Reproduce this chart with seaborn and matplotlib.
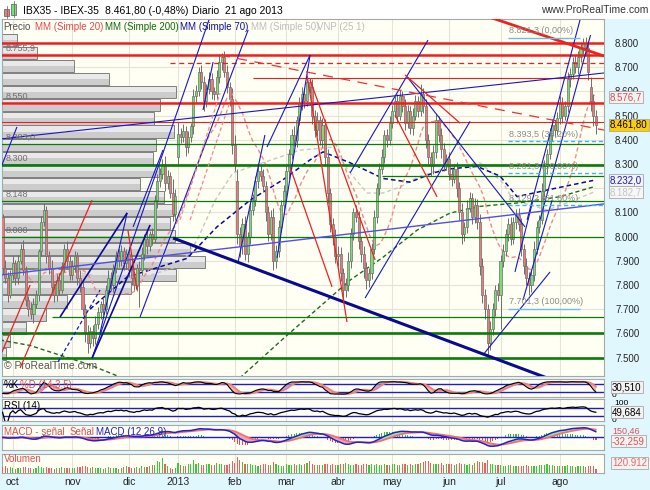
import numpy as np
import pandas as pd
import matplotlib
matplotlib.use("Agg")
import matplotlib.pyplot as plt
import matplotlib.transforms as mtransforms
from matplotlib.patches import Rectangle
import seaborn as sns

# ---------------- data ----------------
close_sep = [7870, 7830, 7760, 7840]
close_oct = [7890, 7830, 7900, 7950, 7860, 7740, 7700, 7680, 7720, 7760, 7940, 8060,
             8110, 7920, 7870, 7790, 7760, 7820, 7780, 7880, 7950, 7900, 7840]
close_nov = [7880, 7920, 7830, 7790, 7700, 7600, 7560, 7610, 7580, 7640, 7690, 7720,
             7700, 7780, 7830, 7800, 7870, 7920, 7900, 7940, 7890, 7930]
close_dic = [7860, 7830, 7800, 7870, 7860, 7930, 7990, 7960, 8010, 7990, 8150, 8230,
             8260, 8300, 8220, 8250, 8180, 8095, 8168]
close_ene = [8425, 8410, 8435, 8370, 8410, 8455, 8580, 8600, 8680, 8640, 8560, 8610,
             8650, 8600, 8590, 8660, 8720, 8740, 8680, 8620, 8570, 8380]
close_feb = [8300, 8010, 7960, 8050, 7930, 8000, 8110, 8150, 8230, 8270, 8250, 8210,
             8100, 8010, 8080, 7900, 7940, 8040, 8130, 8190]
close_mar = [8270, 8340, 8420, 8400, 8480, 8550, 8590, 8560, 8640, 8620, 8500, 8440,
             8480, 8400, 8460, 8330, 8180, 8050, 8000, 7920]
close_abr = [7930, 7850, 7780, 7800, 7900, 8010, 8100, 8080, 7980, 7930, 7870, 7820,
             7850, 7950, 8080, 8200, 8280, 8330, 8420, 8400, 8470]
close_may = [8520, 8560, 8500, 8580, 8540, 8470, 8520, 8450, 8500, 8560, 8520, 8590,
             8540, 8400, 8330, 8290, 8350, 8480, 8420, 8360, 8300, 8320]
close_jun = [8260, 8240, 8280, 8200, 8100, 8010, 8040, 8120, 8160, 8080, 8130, 8060,
             7880, 7760, 7700, 7560, 7620, 7700, 7780, 7760]
close_jul = [7900, 7940, 8010, 8050, 7990, 8060, 8090, 8050, 7950, 7880, 7830, 7800,
             7840, 7950, 8040, 8070, 8190, 8290, 8340, 8420, 8460, 8440, 8490]
close_ago = [8550, 8500, 8540, 8650, 8670, 8720, 8700, 8740, 8780, 8800, 8780, 8680,
             8560, 8500, 8461.8]

gap_opens = {0: 8080, 68: 8330, 91: 8230, 228: 8620}

wick_up = [15, 35, 25, 20,
           30, 15, 25, 20, 35, 20, 15, 30, 25, 20, 10, 25, 30, 15, 20, 35, 20, 25, 30, 15, 20, 30, 25,
           25, 20, 15, 30, 25, 20, 35, 15, 25, 30, 20, 15, 25, 20, 30, 25, 15, 20, 30, 25, 15, 20,
           30, 20, 25, 15, 30, 25, 20, 35, 15, 25, 20, 30, 25, 20, 35, 25, 15, 60, 30,
           50, 25, 30, 20, 25, 15, 30, 25, 20, 30, 25, 20, 30, 25, 20, 30, 35, 20, 25, 30, 20, 45,
           40, 50, 30, 25, 35, 20, 30, 25, 20, 35, 25, 30, 20, 25, 30, 40, 25, 30, 20, 25,
           30, 20, 25, 35, 20, 25, 30, 25, 20, 15, 30, 25, 35, 20, 30, 25, 30, 20, 25, 30,
           30, 25, 20, 30, 35, 25, 20, 30, 25, 20, 30, 25, 20, 25, 30, 20, 25, 30, 20, 25, 30,
           25, 20, 30, 25, 20, 30, 25, 20, 30, 25, 20, 40, 25, 30, 25, 20, 30, 25, 20, 30, 25, 20,
           30, 25, 20, 30, 25, 40, 20, 30, 25, 20, 30, 25, 35, 30, 25, 20, 30, 25, 20, 30,
           25, 30, 20, 25, 30, 20, 25, 30, 25, 20, 30, 25, 20, 30, 25, 20, 30, 25, 20, 30, 25, 20, 25,
           30, 25, 20, 30, 25, 20, 30, 25, 20, 21, 25, 30, 40, 30, 25]
wick_dn = [25, 20, 30, 15,
           20, 30, 25, 15, 20, 25, 30, 20, 35, 15, 25, 20, 15, 30, 25, 20, 30, 25, 20, 15, 25, 30, 20,
           20, 25, 30, 20, 25, 35, 40, 20, 30, 25, 20, 30, 25, 20, 15, 25, 30, 20, 25, 20, 30, 25,
           25, 30, 20, 25, 150, 20, 25, 30, 20, 25, 15, 30, 25, 20, 30, 25, 20, 30, 25,
           30, 25, 20, 35, 25, 20, 30, 25, 20, 30, 40, 25, 20, 30, 25, 20, 25, 30, 20, 25, 30, 40,
           30, 40, 45, 30, 25, 35, 30, 20, 25, 30, 20, 25, 35, 30, 25, 40, 30, 25, 20, 25,
           25, 30, 20, 25, 30, 20, 25, 30, 20, 25, 35, 30, 25, 20, 30, 35, 40, 30, 35, 30,
           40, 35, 45, 30, 25, 30, 25, 20, 30, 35, 40, 35, 30, 25, 20, 25, 30, 20, 25, 30, 20,
           20, 25, 30, 20, 25, 30, 20, 25, 30, 20, 25, 20, 30, 35, 30, 40, 30, 25, 30, 35, 30, 25,
           25, 30, 20, 35, 30, 40, 30, 25, 20, 30, 25, 30, 40, 35, 40, 50, 30, 25, 30, 25,
           140, 25, 20, 30, 25, 20, 30, 25, 30, 35, 30, 40, 30, 25, 20, 25, 20, 25, 30, 20, 25, 30, 20,
           25, 30, 20, 25, 30, 20, 25, 30, 20, 25, 30, 35, 40, 45, 40]
volume = [160, 190, 150, 170,
          140, 120, 150, 130, 160, 170, 140, 130, 120, 150, 180, 160, 140, 170, 150, 130, 120, 140, 130, 160, 150, 140, 130,
          150, 140, 160, 170, 180, 190, 170, 150, 160, 140, 130, 150, 120, 140, 160, 150, 130, 140, 120, 150, 160, 190,
          170, 150, 140, 160, 150, 180, 170, 160, 190, 210, 230, 330, 300, 420, 260, 200, 150, 120, 130,
          280, 230, 200, 180, 250, 260, 350, 250, 270, 230, 210, 240, 260, 220, 230, 280, 260, 250, 230, 220, 240, 330,
          280, 440, 350, 300, 260, 240, 250, 230, 220, 200, 210, 240, 250, 230, 210, 300, 260, 220, 200, 190,
          240, 220, 230, 250, 220, 240, 230, 260, 280, 330, 240, 220, 210, 230, 220, 260, 240, 230, 250, 220,
          230, 250, 260, 280, 240, 230, 220, 240, 220, 230, 250, 240, 220, 260, 230, 240, 220, 210, 250, 220, 230,
          240, 250, 230, 220, 240, 260, 230, 250, 220, 240, 260, 280, 300, 340, 320, 280, 250, 240, 260, 280, 230, 250,
          260, 240, 230, 250, 270, 260, 240, 230, 250, 220, 280, 330, 290, 300, 280, 350, 260, 240, 230, 220,
          210, 200, 190, 210, 230, 200, 190, 180, 200, 190, 210, 200, 190, 180, 200, 220, 210, 230, 240, 220, 210, 190, 200,
          190, 180, 200, 210, 190, 180, 170, 190, 180, 200, 170, 190, 200, 180, 121]

month_pos = [4, 27, 49, 68, 90, 110, 130, 151, 173, 193, 216]
month_labels = ["oct", "nov", "dic", "2013", "feb", "mar", "abr", "may", "jun", "jul", "ago"]
price_ticks = [7500, 7600, 7700, 7800, 7900, 8000, 8100, 8200, 8300, 8400, 8500, 8600, 8700, 8800]
hidden_ticks = [8200]   # fully covered by the value boxes in the reference

# volume-at-price profile (left)
profile_price = [8812, 8758, 8704, 8650, 8596, 8542, 8488, 8434, 8380, 8326, 8272, 8218, 8164,
                 8110, 8056, 8002, 7948, 7894, 7840, 7786, 7732, 7678, 7624, 7570, 7516]
profile_volume = [15, 35, 72, 107, 174, 158, 152, 172, 154, 151, 157, 138, 162,
                  172, 168, 173, 188, 203, 174, 129, 65, 44, 24, 8, 4]

# moving averages (index, value)
sma200_x = [-1, 10.7, 22.3, 33.9, 45.5, 61, 76.5, 92.4, 109.5, 134.7, 147.5, 160.7, 173.4, 185.1, 200.6, 216.1, 228.9]
sma200_y = [7573, 7550, 7510, 7470, 7420, 7370, 7355, 7420, 7585, 7820, 7915, 8027, 8097, 8125, 8140, 8165, 8205]
sma70_x = [33.9, 48.3, 71.5, 83.1, 95.9, 108.7, 119.2, 124.2, 134.7, 147.5, 157.9, 166.9, 173.4, 183.9, 192.8, 199.4, 212.2, 228.9]
sma70_y = [7700, 7833, 7910, 8040, 8150, 8235, 8317, 8350, 8305, 8240, 8225, 8263, 8280, 8290, 8250, 8165, 8195, 8232]
sma50_x = [6.8, 18.4, 37.8, 57.2, 68.8, 75.4, 82.4, 89.3, 115.3, 128.1, 134.7, 141.3, 147.5, 154.1, 160.7, 173.4,
           185.1, 194.1, 198, 211.2, 219, 228.9]
sma50_y = [7850, 7870, 7835, 7840, 7880, 7985, 8150, 8263, 8357, 8370, 8263, 8180, 8180, 8205, 8245, 8290,
           8305, 8220, 8150, 8110, 8140, 8183]

# horizontal support / resistance levels
red_major = [8800, 8752, 8551]
red_minor = [8472]
red_minor_from = [(8654, 97.1)]
red_dashed_from = [(8716, 64.9)]
green_major = [8297, 7603, 7500]
green_minor = [8383, 8147, 7997]
green_minor_from = [(8250, 147.1), (7667, 19.2)]
left_level_values = [8752, 8551, 8383, 8297, 8147, 7997]
left_level_labels = ["8.755,9", "8.550", "8.383,0", "8.300", "8.148", "8.000"]

# trendlines ((i0, p0), (i1, p1))
blue_lines = [((34.7, 7498), (80, 8895)), ((53.3, 7668), (95.2, 8854)), ((37.8, 7602), (48.3, 8098)),
              ((50.6, 8040), (62.2, 8358)), ((77.7, 8523), (81.6, 8721)), ((91.3, 7895), (101.7, 8420)),
              ((102.5, 8370), (119.2, 8750)), ((106.4, 7912), (119.2, 8750)), ((134.7, 8263), (164.9, 8812)),
              ((140.5, 7746), (181.2, 8476)), ((156.8, 8660), (202.5, 8040)), ((186.2, 7511), (212.2, 7854)),
              ((198.6, 7854), (205.6, 8151)), ((201.7, 7738), (213, 8151)), ((203.3, 8069), (223.8, 8895)),
              ((208.3, 8069), (227.9, 8833)), ((-1, 8275), (5.6, 8453)), ((-1, 8403), (233.1, 8676))]
blue_bold_lines = [((22.3, 7668), (48.3, 8098)), ((34.7, 7498), (57.2, 8048))]
blue_dashed_lines = [((21.5, 7482), (37.8, 7779))]
violet_lines = [((-1, 7841), (233.1, 8135))]
navy_lines = [((66.1, 7994), (215, 7400))]
red_lines = [((118, 8668), (133.5, 7647)), ((119.2, 8647), (144.4, 7903)), ((111.4, 8288), (127.7, 7792)),
             ((152.1, 8502), (168.4, 8164)), ((156, 8668), (177.3, 8469)), ((6.8, 7457), (34.7, 8151)),
             ((48.6, 8027), (52.1, 7779)), ((-0.2, 7523), (10.7, 7800))]
red_thick_lines = [((185.1, 8920), (233.1, 8746))]
red_longdash_lines = [((84.3, 8750), (233.1, 8440))]
pink_dashed_lines = [((68.8, 8069), (84.3, 8593)), ((72.7, 8069), (89.3, 8593))]

# Fibonacci retracement
fib_levels = [8821.3, 8393.5, 8261.3, 8129.2, 7701.3]
fib_labels = ["8.821,3 (0,00%)", "8.393,5 (38,20%)", "8.261,3 (50,00%)", "8.129,2 (61,80%)", "7.701,3 (100,00%)"]
fib_solid = [True, False, False, False, True]
fib_start, fib_end_solid = 195.9, 223.8

# ---------------- derived frame ----------------
closes = (close_sep + close_oct + close_nov + close_dic + close_ene + close_feb + close_mar +
          close_abr + close_may + close_jun + close_jul + close_ago)
n = len(closes)
idx = np.arange(n)
c = np.array(closes, float)
o = np.r_[c[0], c[:-1]]
for k, v in gap_opens.items():
    o[k] = v
hi = np.maximum(o, c) + np.array(wick_up)
lo = np.minimum(o, c) - np.array(wick_dn)
df = pd.DataFrame(dict(x=idx, open=o, close=c, high=hi, low=lo, volume=volume))

sma20 = df.close.rolling(20, min_periods=5).mean()
hh = df.high.rolling(14, min_periods=1).max()
ll = df.low.rolling(14, min_periods=1).min()
k_line = (100 * (df.close - ll) / (hh - ll)).rolling(3, min_periods=1).mean()
d_line = k_line.rolling(5, min_periods=1).mean()
delta = df.close.diff().fillna(0)
gain = delta.clip(lower=0).ewm(alpha=1 / 14, adjust=False).mean()
loss = (-delta.clip(upper=0)).ewm(alpha=1 / 14, adjust=False).mean()
rsi = (100 - 100 / (1 + gain / loss.replace(0, np.nan))).fillna(50)
macd = df.close.ewm(span=12, adjust=False).mean() - df.close.ewm(span=26, adjust=False).mean()
signal = macd.ewm(span=9, adjust=False).mean()
hist = macd - signal

# ---------------- figure ----------------
sns.set_style("white")
plt.rcParams['font.family'] = ['Liberation Sans', 'DejaVu Sans']
plt.rcParams['patch.force_edgecolor'] = False

W, H = 650, 490
fig = plt.figure(figsize=(6.5, 4.9), dpi=100)
fig.patch.set_facecolor('#E1F7FE')
fig.patches.append(Rectangle((0, 1 - 19 / H), 1, 19 / H, transform=fig.transFigure,
                             facecolor='white', edgecolor='none', zorder=-1))


def rect(x0, y0, x1, y1):
    return [x0 / W, 1 - y1 / H, (x1 - x0) / W, (y1 - y0) / H]


IVORY = '#FFFFF3'
GRID = '#E4E4D8'
SPINE = '#A8A8A8'
XMIN, XMAX = -0.2, 233.1

ax = fig.add_axes(rect(2, 19, 604, 376))
ax_st = fig.add_axes(rect(2, 379, 604, 397))
ax_rsi = fig.add_axes(rect(2, 399, 604, 421))
ax_macd = fig.add_axes(rect(2, 425, 604, 450))
ax_vol = fig.add_axes(rect(2, 454, 604, 473))
panels = [ax, ax_st, ax_rsi, ax_macd, ax_vol]

for a in panels:
    a.set_facecolor(IVORY)
    a.set_xlim(XMIN, XMAX)
    for s in a.spines.values():
        s.set_color(SPINE)
        s.set_linewidth(0.8)
    a.set_xticks(month_pos)
    a.tick_params(axis='x', length=0, labelbottom=False)
    a.tick_params(axis='y', length=0)
    a.grid(True, axis='x', color=GRID, lw=0.8, zorder=0)
    a.set_axisbelow(True)

# ---- main price panel ----
ax.set_ylim(7424, 8899)
ax.yaxis.tick_right()
ax.set_yticks(price_ticks)
ax.set_yticklabels(["" if v in hidden_ticks else f"{v // 1000}.{v % 1000:03d}" for v in price_ticks],
                   fontsize=7)
ax.tick_params(axis='y', pad=8)
ax.grid(True, axis='y', color=GRID, lw=0.8, zorder=0)

VP_SPAN = 602.0
vp_tr = mtransforms.blended_transform_factory(
    mtransforms.Affine2D().scale(1 / VP_SPAN, 1) + ax.transAxes, ax.transData)
for pc, pv in zip(profile_price, profile_volume):
    ax.add_patch(Rectangle((0, pc - 25), pv, 50, transform=vp_tr, facecolor='#CCCCCC',
                           edgecolor='none', zorder=1))
    ax.add_patch(Rectangle((0, pc), pv, 25, transform=vp_tr, facecolor='#E9E9E9',
                           edgecolor='none', zorder=1))
    ax.add_patch(Rectangle((0, pc - 25), pv, 50, transform=vp_tr, fill=False,
                           edgecolor='#7E7E7E', lw=0.7, zorder=1))

# moving averages
sns.lineplot(x=sma50_x, y=sma50_y, ax=ax, color='#C8C8C8', lw=1.0, linestyle=(0, (3, 2)), zorder=3)
sns.lineplot(x=sma200_x, y=sma200_y, ax=ax, color='#1E6B1E', lw=1.0, linestyle=(0, (3, 2)), zorder=3)
sns.lineplot(x=sma70_x, y=sma70_y, ax=ax, color='#0A0A96', lw=1.1, linestyle=(0, (3, 2)), zorder=3)
sns.lineplot(x=idx, y=sma20.values, ax=ax, color='#F08A8A', lw=1.0, linestyle=(0, (3, 2)), zorder=3)

# candles
up = c >= o
body_lo = np.minimum(o, c)
body_h = np.maximum(np.abs(c - o), 5)
ax.vlines(idx, lo, hi, color='#6E6E6E', lw=0.7, zorder=4)
ax.bar(idx[up], body_h[up], bottom=body_lo[up], width=0.8, color='#74E074',
       edgecolor='#6E6E6E', lw=0.5, zorder=5)
ax.bar(idx[~up], body_h[~up], bottom=body_lo[~up], width=0.8, color='#F07878',
       edgecolor='#6E6E6E', lw=0.5, zorder=5)

# horizontal levels
RED, GREEN = '#F21C1C', '#0A7A0A'
for y in red_major:
    ax.axhline(y, color=RED, lw=1.8, zorder=6)
for y in red_minor:
    ax.axhline(y, color=RED, lw=0.8, zorder=6)
for y, x0 in red_minor_from:
    ax.hlines(y, x0, XMAX, color=RED, lw=0.8, zorder=6)
for y, x0 in red_dashed_from:
    ax.hlines(y, x0, XMAX, color=RED, lw=0.9, linestyles=(0, (4, 3)), zorder=6)
for y in green_major:
    ax.axhline(y, color=GREEN, lw=1.9, zorder=6)
for y in green_minor:
    ax.axhline(y, color=GREEN, lw=0.9, zorder=6)
for y, x0 in green_minor_from:
    ax.hlines(y, x0, XMAX, color=GREEN, lw=0.9, zorder=6)


def draw(segs, **kw):
    for (x0, y0), (x1, y1) in segs:
        ax.plot([x0, x1], [y0, y1], solid_capstyle='butt', **kw)


draw(blue_lines, color='#1616C8', lw=0.8, zorder=6)
draw(blue_bold_lines, color='#0A0AA0', lw=1.2, zorder=6)
draw(blue_dashed_lines, color='#1616C8', lw=0.9, linestyle=(0, (3, 2)), zorder=6)
draw(violet_lines, color='#5050E6', lw=1.0, zorder=6)
draw(navy_lines, color='#0A0A8C', lw=2.2, zorder=6)
draw(red_lines, color='#EE2020', lw=0.9, zorder=6)
draw(red_thick_lines, color='#EE2020', lw=2.0, zorder=6)
draw(red_longdash_lines, color='#EE3030', lw=0.9, linestyle=(0, (8, 6)), zorder=6)
draw(pink_dashed_lines, color='#F08A8A', lw=0.9, linestyle=(0, (3, 2)), zorder=6)

# fibonacci
for lvl, lab, solid in zip(fib_levels, fib_labels, fib_solid):
    if solid:
        ax.hlines(lvl, fib_start, fib_end_solid, color='#6CBDEB', lw=1.0, zorder=6)
    else:
        ax.hlines(lvl, fib_start, XMAX, color='#3DB5F0', lw=1.0, linestyles=(0, (3, 2)), zorder=6)
    ax.annotate(lab, (fib_start + 0.5, lvl), xytext=(0, 2), textcoords='offset points',
                fontsize=6.5, color='#8A8A8A', va='bottom', ha='left', zorder=7)

# left level labels
for lvl, lab in zip(left_level_values, left_level_labels):
    ax.annotate(lab, (0.006, lvl), xycoords=('axes fraction', 'data'), xytext=(0, 1.5),
                textcoords='offset points', fontsize=6.5, color='#707070', va='bottom',
                ha='left', zorder=7)

ax.text(0.004, 0.015, "\u00a9 ProRealTime.com", transform=ax.transAxes, fontsize=7.5,
        color='#555555', ha='left', va='bottom', zorder=7)

# right value boxes
rtr = mtransforms.blended_transform_factory(ax.transAxes, ax.transData)
for val, txt, col, fc in [(8576.7, "8.576,7", '#E04A4A', '#F2F2F2'),
                          (8461.8, "8.461,80", 'black', '#FFCC00'),
                          (8232.0, "8.232,0", '#1A1AB4', '#F2F2F2'),
                          (8182.7, "8.182,7", '#C4C4C4', '#F7F7F7')]:
    ax.text(1.01, val, txt, transform=rtr, fontsize=7, color=col, ha='left', va='center',
            clip_on=False, zorder=10,
            bbox=dict(boxstyle='square,pad=0.1', fc=fc, ec='#A8A8A8', lw=0.6))

for a in [ax_st, ax_rsi, ax_macd, ax_vol]:
    a.set_yticks([])

# ---- stochastic ----
ax_st.set_ylim(-17, 117)
ax_st.axhline(80, color='#1E1EC8', lw=1.0, zorder=2)
ax_st.axhline(20, color='#1E1EC8', lw=1.0, zorder=2)
ax_st.fill_between(idx, k_line, d_line, where=k_line >= d_line, color='#8A8AF0', alpha=0.7,
                   lw=0, interpolate=True, zorder=3)
ax_st.fill_between(idx, k_line, d_line, where=k_line < d_line, color='#F4A0A0', alpha=0.8,
                   lw=0, interpolate=True, zorder=3)
sns.lineplot(x=idx, y=d_line.values, ax=ax_st, color='#F08080', lw=1.4, zorder=4)
sns.lineplot(x=idx, y=k_line.values, ax=ax_st, color='black', lw=0.8, zorder=5)

# ---- RSI ----
ax_rsi.set_ylim(4, 118)
ax_rsi.axhline(70, color='#1E1EC8', lw=1.0, zorder=2)
ax_rsi.axhline(30, color='#1E1EC8', lw=1.0, zorder=2)
sns.lineplot(x=idx, y=rsi.values, ax=ax_rsi, color='black', lw=0.9, zorder=4)

# ---- MACD ----
mtop = float(max(macd.max(), signal.max()))
mbot = float(min(macd.min(), signal.min()))
ax_macd.set_ylim(mbot - 0.2 * (mtop - mbot), mtop + 0.15 * (mtop - mbot))
hcol = np.where(hist.values >= 0, '#33C033', '#E05050')
ax_macd.bar(idx, hist.values * 1.5, width=0.4, color=hcol, edgecolor='none', lw=0, zorder=2)
ax_macd.axhline(0, color='#1E1EC8', lw=1.0, zorder=3)
ax_macd.fill_between(idx, macd, signal, where=macd >= signal, color='#9CE59C', lw=0,
                     interpolate=True, zorder=3)
ax_macd.fill_between(idx, macd, signal, where=macd < signal, color='#F4A6A6', lw=0,
                     interpolate=True, zorder=3)
sns.lineplot(x=idx, y=signal.values, ax=ax_macd, color='#F07070', lw=1.3, zorder=4)
sns.lineplot(x=idx, y=macd.values, ax=ax_macd, color='#2222D0', lw=1.1, zorder=5)

# ---- volume ----
vcol = np.where(c >= o, '#3CC83C', '#E86262')
ax_vol.bar(idx, df.volume, width=0.45, color=vcol, edgecolor='none', lw=0, zorder=3)
ax_vol.set_ylim(0, 520)
ax_vol.tick_params(axis='x', labelbottom=True, labelsize=7.5, pad=3, length=0)
ax_vol.set_xticklabels(month_labels)

for a in panels:
    a.set_xlabel('')
    a.set_ylabel('')


# ---- panel texts ----
def fx(px):
    return px / W


def fy(py):
    return 1 - py / H


fig.text(fx(4), fy(385), "%K", fontsize=7, color='black', va='center')
fig.text(fx(20), fy(385), "%D (14,3,5)", fontsize=7, color='#E05050', va='center')
fig.text(fx(4), fy(406), "RSI (14)", fontsize=7, color='black', va='center')
fig.text(fx(4), fy(432), "MACD - señal", fontsize=7, color='#E05050', va='center')
fig.text(fx(70), fy(432), "Señal", fontsize=7, color='#E05050', va='center')
fig.text(fx(96), fy(432), "MACD (12 26 9)", fontsize=7, color='#1E1EC8', va='center')
fig.text(fx(4), fy(459), "Volumen", fontsize=7, color='#E05050', va='center')

fig.text(fx(612), fy(395), "0", fontsize=6, color='black', va='center')
fig.text(fx(614), fy(403), "100", fontsize=6, color='black', va='center')
fig.text(fx(612), fy(420), "0", fontsize=6, color='black', va='center')
fig.text(fx(612), fy(431), "150,46", fontsize=6.5, color='#E05050', va='center')
for (py, txt, col) in [(387, "30,510", 'black'), (412, "49,684", 'black'),
                       (441, "-32,259", '#E05050'), (463, "120.912", '#E86A6A')]:
    fig.text(fx(612), fy(py), txt, fontsize=7, color=col, va='center', ha='left', zorder=10,
             bbox=dict(boxstyle='square,pad=0.15', fc='#F2F2F2', ec='#A8A8A8', lw=0.6))

# ---- header ----
fig.patches.append(Rectangle((fx(4), fy(16)), 5 / W, 7 / H, transform=fig.transFigure,
                             facecolor='#F07878', edgecolor='#6E6E6E', lw=0.6))
fig.patches.append(Rectangle((fx(11), fy(15)), 5 / W, 11 / H, transform=fig.transFigure,
                             facecolor='#74E074', edgecolor='#6E6E6E', lw=0.6))
fig.lines.append(plt.Line2D([fx(6.5), fx(6.5)], [fy(18), fy(6)], transform=fig.transFigure,
                            color='#6E6E6E', lw=0.6))
fig.lines.append(plt.Line2D([fx(13.5), fx(13.5)], [fy(17), fy(1.5)], transform=fig.transFigure,
                            color='#6E6E6E', lw=0.6))

fig.text(fx(23), fy(11), "IBX35 - IBEX-35", fontsize=7.5, color='black', va='center')
fig.text(fx(105), fy(11), "8.461,80 (-0,48%)", fontsize=7.5, color='black', va='center')
fig.text(fx(192), fy(11), "Diario  21 ago 2013", fontsize=7.5, color='black', va='center')
fig.text(fx(648), fy(10), "www.ProRealTime.com", fontsize=7.5, color='#333333', va='center', ha='right')

# legend row
for px, txt, col in [(3, "Precio", '#505050'), (35, "MM (Simple 20)", '#E04A4A'),
                     (105, "MM (Simple 200)", '#0E6A0E'), (180, "MM (Simple 70)", '#10109A'),
                     (251, "MM (Simple 50)", '#BDBDBD'), (317, "VNP (25 1)", '#BDBDBD')]:
    fig.text(fx(px), fy(27), txt, fontsize=7, color=col, va='center', zorder=10)

fig.savefig("out.png", dpi=100, facecolor=fig.get_facecolor())
